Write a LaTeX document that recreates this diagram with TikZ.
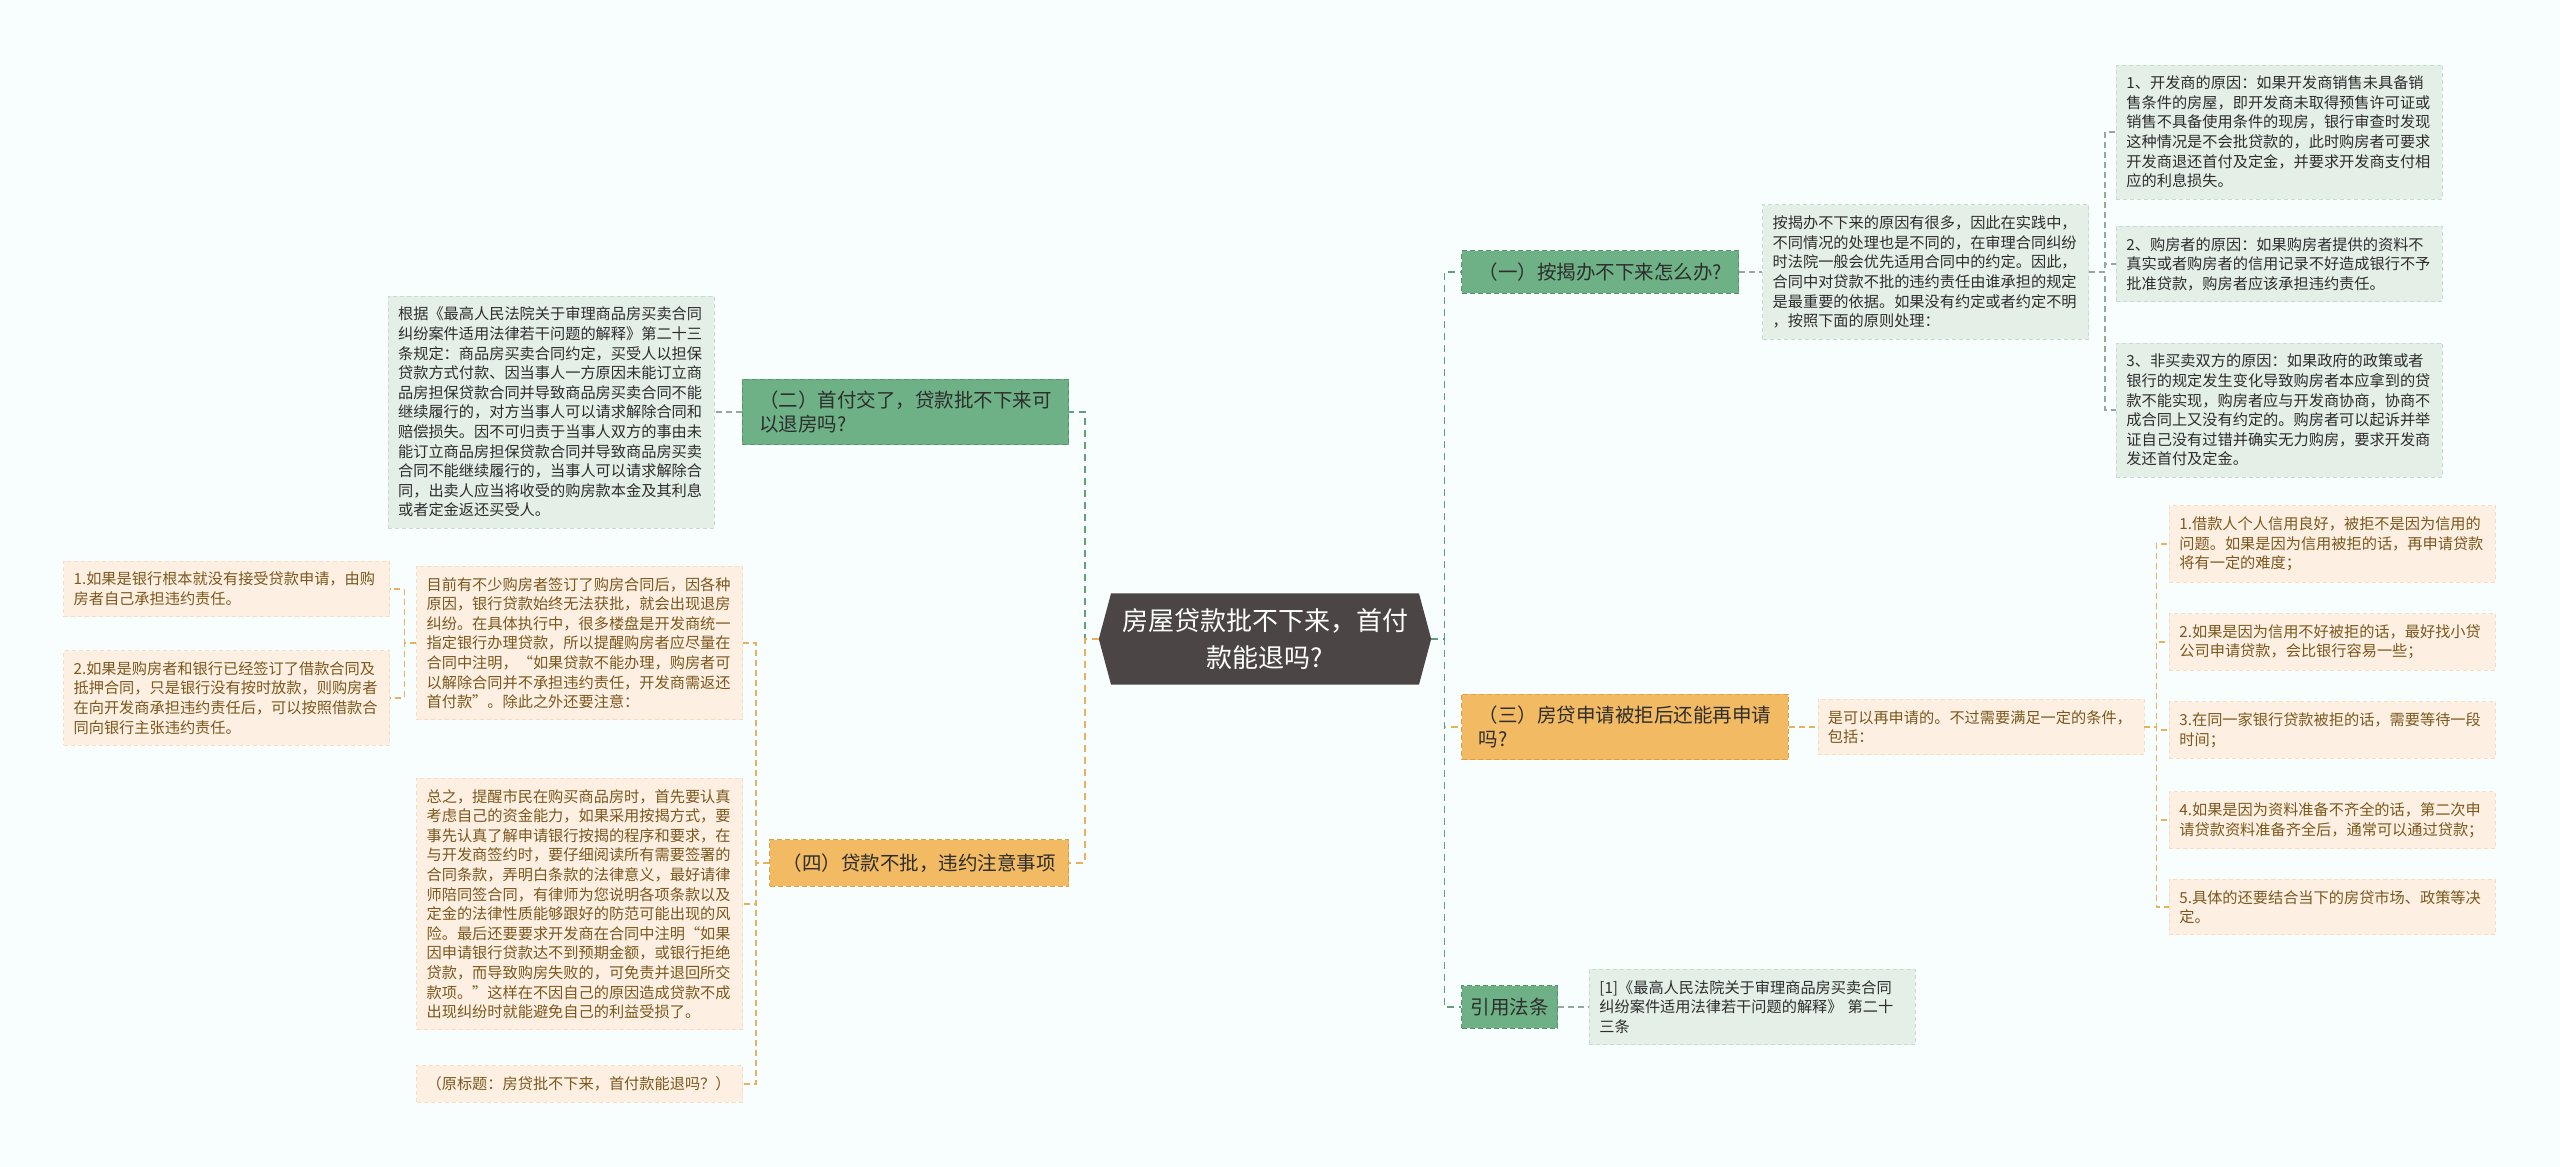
\documentclass[tikz,border=0pt]{standalone}
\usepackage{fontspec}
\setmainfont{Noto Sans CJK SC}
\usetikzlibrary{positioning,shapes.symbols}

\definecolor{bgpaper}{RGB}{248,253,253}
\definecolor{rootgray}{RGB}{75,70,69}
\definecolor{topicgreen}{RGB}{110,177,135}
\definecolor{topicgreenline}{RGB}{84,150,108}
\definecolor{topicorange}{RGB}{242,186,98}
\definecolor{topicorangeline}{RGB}{222,160,70}
\definecolor{notegreen}{RGB}{228,239,231}
\definecolor{notegreenline}{RGB}{200,220,206}
\definecolor{noteorange}{RGB}{253,240,226}
\definecolor{noteorangeline}{RGB}{246,222,196}
\definecolor{inkdark}{RGB}{45,45,45}
\definecolor{inkbrown}{RGB}{122,88,30}
\definecolor{linkgreen}{RGB}{96,160,120}
\definecolor{linkgray}{RGB}{150,168,156}
\definecolor{linkorange}{RGB}{230,178,98}

\begin{document}
\begin{tikzpicture}[
    x=1pt, y=-1pt,
    root/.style={shape=signal, signal to=west and east, signal pointer angle=150,
                 fill=rootgray, text=white, align=center, text width=292pt,
                 inner xsep=8pt, inner ysep=15pt, font=\fontsize{26}{37}\selectfont},
    topic/.style={line width=1pt, dash pattern=on 5pt off 3pt, align=left,
                  inner xsep=17pt, inner ysep=12pt, text=inkdark,
                  font=\fontsize{19.5}{23.5}\selectfont},
    gtopic/.style={topic, fill=topicgreen, draw=topicgreenline},
    otopic/.style={topic, fill=topicorange, draw=topicorangeline},
    note/.style={line width=0.8pt, dash pattern=on 4pt off 3pt, align=left,
                 text width=306pt, inner xsep=10pt, inner ysep=11pt,
                 font=\fontsize{15.2}{19.6}\selectfont},
    gnote/.style={note, fill=notegreen, draw=notegreenline, text=inkdark},
    onote/.style={note, fill=noteorange, draw=noteorangeline, text=inkbrown},
    link/.style={line width=1.8pt, dash pattern=on 7pt off 5pt},
    glink/.style={link, draw=linkgreen},
    olink/.style={link, draw=linkorange},
    slink/.style={line width=1.2pt, dash pattern=on 6pt off 4pt, draw=linkgray},
    solink/.style={line width=1.2pt, dash pattern=on 6pt off 4pt, draw=linkorange},
  ]
  \fill[bgpaper] (0,0) rectangle (2560,1167);
  \useasboundingbox (0,0) rectangle (2560,1167);

  % centre
  \node[root] (root) at (1265,639) {房屋贷款批不下来，首付\\款能退吗?};

  % left side
  \node[gtopic, anchor=east] (q2) at (1069,412) {（二）首付交了，贷款批不下来可\\以退房吗?};
  \node[gnote, left=27pt of q2] (law) {根据《最高人民法院关于审理商品房买卖合同\\纠纷案件适用法律若干问题的解释》第二十三\\条规定：商品房买卖合同约定，买受人以担保\\贷款方式付款、因当事人一方原因未能订立商\\品房担保贷款合同并导致商品房买卖合同不能\\继续履行的，对方当事人可以请求解除合同和\\赔偿损失。因不可归责于当事人双方的事由未\\能订立商品房担保贷款合同并导致商品房买卖\\合同不能继续履行的，当事人可以请求解除合\\同，出卖人应当将收受的购房款本金及其利息\\或者定金返还买受人。};

  \node[otopic, anchor=east, inner xsep=13pt, inner ysep=14pt] (q4) at (1069,863) {（四）贷款不批，违约注意事项};
  \node[onote, anchor=east] (now) at (743,643) {目前有不少购房者签订了购房合同后，因各种\\原因，银行贷款始终无法获批，就会出现退房\\纠纷。在具体执行中，很多楼盘是开发商统一\\指定银行办理贷款，所以提醒购房者应尽量在\\合同中注明，“如果贷款不能办理，购房者可\\以解除合同并不承担违约责任，开发商需返还\\首付款”。除此之外还要注意：};
  \node[onote, anchor=east] (bank1) at (390,589) {1.如果是银行根本就没有接受贷款申请，由购\\房者自己承担违约责任。};
  \node[onote, anchor=east] (bank2) at (390,698) {2.如果是购房者和银行已经签订了借款合同及\\抵押合同，只是银行没有按时放款，则购房者\\在向开发商承担违约责任后，可以按照借款合\\同向银行主张违约责任。};
  \node[onote, anchor=east] (sum) at (743,904) {总之，提醒市民在购买商品房时，首先要认真\\考虑自己的资金能力，如果采用按揭方式，要\\事先认真了解申请银行按揭的程序和要求，在\\与开发商签约时，要仔细阅读所有需要签署的\\合同条款，弄明白条款的法律意义，最好请律\\师陪同签合同，有律师为您说明各项条款以及\\定金的法律性质能够跟好的防范可能出现的风\\险。最后还要要求开发商在合同中注明“如果\\因申请银行贷款达不到预期金额，或银行拒绝\\贷款，而导致购房失败的，可免责并退回所交\\款项。”这样在不因自己的原因造成贷款不成\\出现纠纷时就能避免自己的利益受损了。};
  \node[onote, anchor=east] (orig) at (743,1084) {（原标题：房贷批不下来，首付款能退吗？）};

  % right side
  \node[gtopic, anchor=west] (q1) at (1461,272) {（一）按揭办不下来怎么办?};
  \node[gnote, right=23pt of q1] (mort) {按揭办不下来的原因有很多，因此在实践中，\\不同情况的处理也是不同的，在审理合同纠纷\\时法院一般会优先适用合同中的约定。因此，\\合同中对贷款不批的违约责任由谁承担的规定\\是最重要的依据。如果没有约定或者约定不明\\，按照下面的原则处理：};
  \node[gnote, anchor=west] (why1) at (2116,132) {1、开发商的原因：如果开发商销售未具备销\\售条件的房屋，即开发商未取得预售许可证或\\销售不具备使用条件的现房，银行审查时发现\\这种情况是不会批贷款的，此时购房者可要求\\开发商退还首付及定金，并要求开发商支付相\\应的利息损失。};
  \node[gnote, anchor=west] (why2) at (2116,264) {2、购房者的原因：如果购房者提供的资料不\\真实或者购房者的信用记录不好造成银行不予\\批准贷款，购房者应该承担违约责任。};
  \node[gnote, anchor=west] (why3) at (2116,410) {3、非买卖双方的原因：如果政府的政策或者\\银行的规定发生变化导致购房者本应拿到的贷\\款不能实现，购房者应与开发商协商，协商不\\成合同上又没有约定的。购房者可以起诉并举\\证自己没有过错并确实无力购房，要求开发商\\发还首付及定金。};

  \node[otopic, anchor=west] (q3) at (1461,727) {（三）房贷申请被拒后还能再申请\\吗?};
  \node[onote, right=29pt of q3] (again) {是可以再申请的。不过需要满足一定的条件，\\包括：};
  \node[onote, anchor=west] (cond1) at (2169,544) {1.借款人个人信用良好，被拒不是因为信用的\\问题。如果是因为信用被拒的话，再申请贷款\\将有一定的难度；};
  \node[onote, anchor=west] (cond2) at (2169,642) {2.如果是因为信用不好被拒的话，最好找小贷\\公司申请贷款，会比银行容易一些；};
  \node[onote, anchor=west] (cond3) at (2169,730) {3.在同一家银行贷款被拒的话，需要等待一段\\时间；};
  \node[onote, anchor=west] (cond4) at (2169,820) {4.如果是因为资料准备不齐全的话，第二次申\\请贷款资料准备齐全后，通常可以通过贷款；};
  \node[onote, anchor=west] (cond5) at (2169,907) {5.具体的还要结合当下的房贷市场、政策等决\\定。};

  \node[gtopic, anchor=west, inner xsep=9pt] (cite) at (1461,1007) {引用法条};
  \node[gnote, right=31pt of cite] (ref) {[1]《最高人民法院关于审理商品房买卖合同\\纠纷案件适用法律若干问题的解释》 第二十\\三条};

  % connectors
  \draw[glink] (root.west) -- ++(-14,0) |- (q2.east);
  \draw[olink] (root.west) -- ++(-14,0) |- (q4.east);
  \draw[olink] (root.east) -- ++(13,0) |- (q3.west);
  \draw[glink] (root.east) -- ++(13,0) |- (q1.west);
  \draw[glink] (root.east) -- ++(13,0) |- (cite.west);

  \draw[slink] (q2.west) -- (law.east);
  \draw[slink] (q1.east) -- (mort.east -| mort.west);
  \draw[slink] (cite.east) -- (ref.west);
  \foreach \n in {why1,why2,why3}
    \draw[slink] (mort.east) -- ++(16,0) |- (\n.west);

  \draw[solink] (q3.east) -- (again.west);
  \foreach \n in {cond1,cond2,cond3,cond4,cond5}
    \draw[solink] (again.east) -- ++(12,0) |- (\n.west);
  \foreach \n in {now,sum,orig}
    \draw[solink] (q4.west) -- ++(-13,0) |- (\n.east);
  \foreach \n in {bank1,bank2}
    \draw[solink] (now.west) -- ++(-12,0) |- (\n.east);
\end{tikzpicture}
\end{document}
